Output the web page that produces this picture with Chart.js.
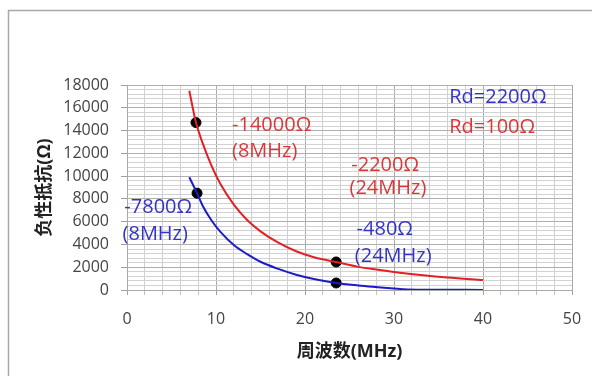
<!DOCTYPE html>
<html>
<head>
<meta charset="utf-8">
<script src="https://cdn.jsdelivr.net/npm/chart.js@4.4.1/dist/chart.umd.min.js"></script>
<style>
  html, body { margin: 0; padding: 0; background: #fff; }
</style>
</head>
<body>
<canvas id="chart" width="592" height="376"></canvas>
<script>
// Rd = 100 ohm (red) curve
const redFreq = [7.0, 7.75, 8.5, 9.5, 10.5, 12, 13.5, 15, 17, 19, 21, 23.5, 26, 28, 30, 33, 36, 40]
const redOhm  = [17500, 14700, 12900, 10900, 9300, 7500, 6150, 5150, 4150, 3400, 2880, 2460, 2030, 1790, 1580, 1320, 1100, 880]

// Rd = 2200 ohm (blue) curve
const blueFreq = [7.0, 7.87, 8.5, 9.5, 10.5, 12, 13.5, 15, 17, 19, 21, 23.5, 26, 28, 30, 31.5, 35, 40]
const blueOhm  = [9900, 8500, 7400, 6100, 5100, 3950, 3150, 2480, 1850, 1340, 960, 615, 400, 260, 130, 50, 20, 10]

// marked points
const dotFreq = [7.75, 23.5, 7.87, 23.5]
const dotOhm  = [14700, 2460, 8500, 615]

// axis ticks
const xTicks = [0, 10, 20, 30, 40, 50]
const yTicks = [0, 2000, 4000, 6000, 8000, 10000, 12000, 14000, 16000, 18000]

const xTitle = "周波数(MHz)"
const yTitle = "负性抵抗(Ω)"

const RED = "rgb(226, 32, 38)"
const BLUE = "rgb(28, 28, 200)"
const RED_TEXT = "rgb(218, 56, 56)"
const BLUE_TEXT = "rgb(52, 52, 196)"

// text notes placed in axis units
const notes = [
  { text: "-14000Ω", x: 11.8, y: 14490, color: RED_TEXT },
  { text: "(8MHz)", x: 11.8, y: 12200, color: RED_TEXT },
  { text: "-2200Ω", x: 25.2, y: 10970, color: RED_TEXT },
  { text: "(24MHz)", x: 25.0, y: 8900, color: RED_TEXT },
  { text: "-7800Ω", x: -0.3, y: 7290, color: BLUE_TEXT },
  { text: "(8MHz)", x: -0.5, y: 4900, color: BLUE_TEXT },
  { text: "-480Ω", x: 25.8, y: 5360, color: BLUE_TEXT },
  { text: "(24MHz)", x: 25.6, y: 2950, color: BLUE_TEXT },
  { text: "Rd=2200Ω", x: 36.2, y: 16940, color: BLUE_TEXT },
  { text: "Rd=100Ω", x: 36.2, y: 14300, color: RED_TEXT }
]

const toPoints = (xs, ys) => xs.map((x, i) => ({ x: x, y: ys[i] }))

// grey frame round the chart, cut off at right and bottom like the original
const framePlugin = {
  id: "frame",
  beforeDraw(chart) {
    const ctx = chart.ctx
    ctx.save()
    ctx.fillStyle = "#fff"
    ctx.fillRect(0, 0, chart.width, chart.height)
    ctx.strokeStyle = "#a8a8a8"
    ctx.lineWidth = 1.5
    ctx.strokeRect(8.5, 10.5, 700, 500)
    ctx.restore()
  }
}

const notesPlugin = {
  id: "notes",
  afterDatasetsDraw(chart) {
    const ctx = chart.ctx
    const xs = chart.scales.x
    const ys = chart.scales.y
    ctx.save()
    ctx.font = "20px 'Open Sans'"
    ctx.textAlign = "left"
    ctx.textBaseline = "middle"
    notes.forEach(n => {
      ctx.fillStyle = n.color
      ctx.fillText(n.text, xs.getPixelForValue(n.x), ys.getPixelForValue(n.y))
    })
    ctx.restore()
  }
}

new Chart(document.getElementById("chart"), {
  type: "scatter",
  data: {
    datasets: [
      {
        label: "Rd=100Ω",
        data: toPoints(redFreq, redOhm),
        showLine: true,
        borderColor: RED,
        borderWidth: 2,
        pointRadius: 0,
        cubicInterpolationMode: "monotone"
      },
      {
        label: "Rd=2200Ω",
        data: toPoints(blueFreq, blueOhm),
        showLine: true,
        borderColor: BLUE,
        borderWidth: 2,
        pointRadius: 0,
        cubicInterpolationMode: "monotone"
      },
      {
        label: "points",
        data: toPoints(dotFreq, dotOhm),
        showLine: false,
        pointRadius: 5,
        pointBackgroundColor: "#000",
        pointBorderColor: "#000"
      }
    ]
  },
  options: {
    responsive: false,
    animation: false,
    layout: { padding: { left: 30, top: 85, right: 20, bottom: 0 } },
    plugins: {
      legend: { display: false },
      tooltip: { enabled: false }
    },
    scales: {
      x: {
        type: "linear",
        min: 0,
        max: 50,
        afterFit: (scale) => {
          scale.height = 86
          scale.paddingLeft = 0
          scale.paddingRight = 0
        },
        ticks: {
          stepSize: 2,
          autoSkip: false,
          maxRotation: 0,
          padding: 15,
          color: "#444",
          font: { family: "'Open Sans'", size: 16 },
          callback: (v) => xTicks.includes(v) ? String(v) : ""
        },
        grid: {
          color: (c) => xTicks.includes(c.tick.value) ? "#a9a9a9" : "#d0d0d0",
          tickColor: (c) => xTicks.includes(c.tick.value) ? "#a0a0a0" : "#c4c4c4",
          tickLength: 5
        },
        border: { color: "#a9a9a9" },
        title: {
          display: true,
          text: xTitle,
          color: "#222",
          padding: { top: 0, bottom: 13 },
          font: { family: "'Open Sans', 'Noto Sans CJK SC'", size: 18, weight: "bold" }
        }
      },
      y: {
        type: "linear",
        min: 0,
        max: 18000,
        afterFit: (scale) => { scale.width = 97 },
        ticks: {
          stepSize: 400,
          autoSkip: false,
          padding: 12,
          color: "#444",
          font: { family: "'Open Sans'", size: 16 },
          callback: (v) => yTicks.includes(v) ? String(v) : ""
        },
        grid: {
          color: (c) => yTicks.includes(c.tick.value) ? "#b0b0b0" : "#d2d2d2",
          tickColor: (c) => yTicks.includes(c.tick.value) ? "#a0a0a0" : "rgba(0,0,0,0)",
          tickLength: 6
        },
        border: { color: "#a9a9a9" },
        title: {
          display: true,
          text: yTitle,
          color: "#222",
          padding: { top: 4, bottom: 0 },
          font: { family: "'Open Sans', 'Noto Sans CJK SC'", size: 18, weight: "bold" }
        }
      }
    }
  },
  plugins: [framePlugin, notesPlugin]
})
</script>
</body>
</html>
